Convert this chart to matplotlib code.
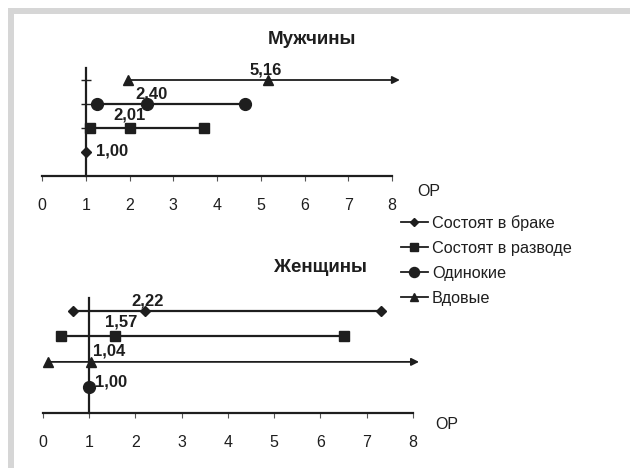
import matplotlib
matplotlib.use("Agg")
import matplotlib.pyplot as plt
from matplotlib.lines import Line2D
from matplotlib.patches import Rectangle

plt.rcParams['font.family'] = ['Liberation Sans', 'DejaVu Sans']

groups = ["Состоят в браке", "Состоят в разводе", "Одинокие", "Вдовые"]
markers = ["D", "s", "o", "^"]
msizes = [5, 7.5, 8.5, 7]

# men: odds ratio, lower and upper bound (None = reference group)
men_or = [1.00, 2.01, 2.40, 5.16]
men_lo = [None, 1.10, 1.26, 1.96]
men_hi = [None, 3.70, 4.64, 8.18]
men_rows = [1, 2, 3, 4]
men_open = [False, False, False, True]

# women
women_or = [2.22, 1.57, 1.00, 1.04]
women_lo = [0.65, 0.39, None, 0.11]
women_hi = [7.31, 6.51, None, 8.13]
women_rows = [4, 3, 1, 2]
women_open = [False, False, False, True]

ticks = [0, 1, 2, 3, 4, 5, 6, 7, 8]

# value label offsets in points (dx, dy to baseline, ha)
men_lab = [(7.7, -2.2, "left"), (0, 5.8, "center"), (3.3, 4.1, "center"), (-1.3, 3.6, "center")]
women_lab = [(1.2, 4.1, "center"), (4.5, 7, "center"), (4.3, 1, "left"), (1.5, 4.8, "left")]

W, H = 630, 468
fig = plt.figure(figsize=(W / 100, H / 100), dpi=100)

# light grey frame on top and left
fig.patches.append(Rectangle((8 / W, 1 - 14 / H), 1, 6 / H, transform=fig.transFigure,
                             color="#d6d6d6", lw=0))
fig.patches.append(Rectangle((8 / W, 0), 6 / W, 1 - 8 / H, transform=fig.transFigure,
                             color="#d6d6d6", lw=0))

ink = "#1e1e1e"


def forest(ax, ors, los, his, rows, opens, labs, title, tx, ty, with_ticks):
    ax.set_xlim(0, 8)
    ax.set_ylim(0, 4.5)
    for s in ["top", "right"]:
        ax.spines[s].set_visible(False)
    ax.spines["bottom"].set_position(("data", 0))
    ax.spines["bottom"].set_linewidth(1.6)
    ax.spines["bottom"].set_color(ink)
    ax.spines["left"].set_position(("data", 1))
    ax.spines["left"].set_linewidth(1.6)
    ax.spines["left"].set_color(ink)
    ax.spines["left"].set_zorder(1)
    ax.set_xticks(ticks)
    ax.set_xticklabels([str(t) for t in ticks])
    ax.tick_params(axis="x", direction="out", length=3.6, width=0.8, color="#555555",
                   pad=12, labelsize=11.5, labelcolor=ink)
    if with_ticks:
        ax.set_yticks([2, 3, 4])
        ax.tick_params(axis="y", direction="inout", length=6.5, width=1.0, color=ink,
                       labelleft=False)
    else:
        ax.set_yticks([])
    ax.patch.set_visible(False)

    for i in range(len(ors)):
        y = rows[i]
        m = markers[i]
        ms = msizes[i]
        if los[i] is not None:
            if opens[i]:
                ax.annotate("", xy=(his[i], y), xytext=(los[i], y),
                            arrowprops=dict(arrowstyle="-|>", lw=1.3, color=ink,
                                            mutation_scale=11, shrinkA=0, shrinkB=0),
                            annotation_clip=False, zorder=2)
                xs = [los[i], ors[i]]
            else:
                ax.plot([los[i], his[i]], [y, y], color=ink, lw=1.6, zorder=2,
                        clip_on=False)
                xs = [los[i], ors[i], his[i]]
            ax.plot(xs, [y] * len(xs), ls="none", marker=m, ms=ms, color=ink,
                    zorder=3, clip_on=False)
        else:
            ax.plot([ors[i]], [y], ls="none", marker=m, ms=ms, color=ink, zorder=3,
                    clip_on=False)
        dx, dy, ha = labs[i]
        ax.annotate(f"{ors[i]:.2f}".replace(".", ","), xy=(ors[i], y),
                    xytext=(dx, dy), textcoords="offset points", ha=ha, va="baseline",
                    fontsize=12, fontweight="bold", color=ink)

    fig.text(tx / W, 1 - ty / H, title, ha="center", va="center", fontsize=13.5,
             fontweight="bold", color=ink)


ax1 = fig.add_axes([42 / W, 1 - 176 / H, 350 / W, 108 / H])
forest(ax1, men_or, men_lo, men_hi, men_rows, men_open, men_lab, "Мужчины", 312, 40, True)
ax1.annotate("ОР", xy=(8, 0), xytext=(18, -11.5), textcoords="offset points",
             ha="left", va="center", fontsize=11.5, color=ink, annotation_clip=False)

ax2 = fig.add_axes([42.7 / W, 1 - 413 / H, 370.3 / W, 115 / H])
forest(ax2, women_or, women_lo, women_hi, women_rows, women_open, women_lab,
       "Женщины", 320, 268, False)
ax2.annotate("ОР", xy=(8, 0), xytext=(16, -8), textcoords="offset points",
             ha="left", va="center", fontsize=11.5, color=ink, annotation_clip=False)

handles = [Line2D([], [], color=ink, lw=1.3, marker=m, ms=s * 0.85)
           for m, s in zip(markers, msizes)]
fig.legend(handles, groups, loc="upper left", bbox_to_anchor=(401 / W, 1 - 215 / H),
           frameon=False, fontsize=11.7, handlelength=1.65, handletextpad=0.25,
           labelspacing=0.62, borderpad=0, borderaxespad=0, labelcolor=ink)

fig.savefig("out.png", dpi=100)
